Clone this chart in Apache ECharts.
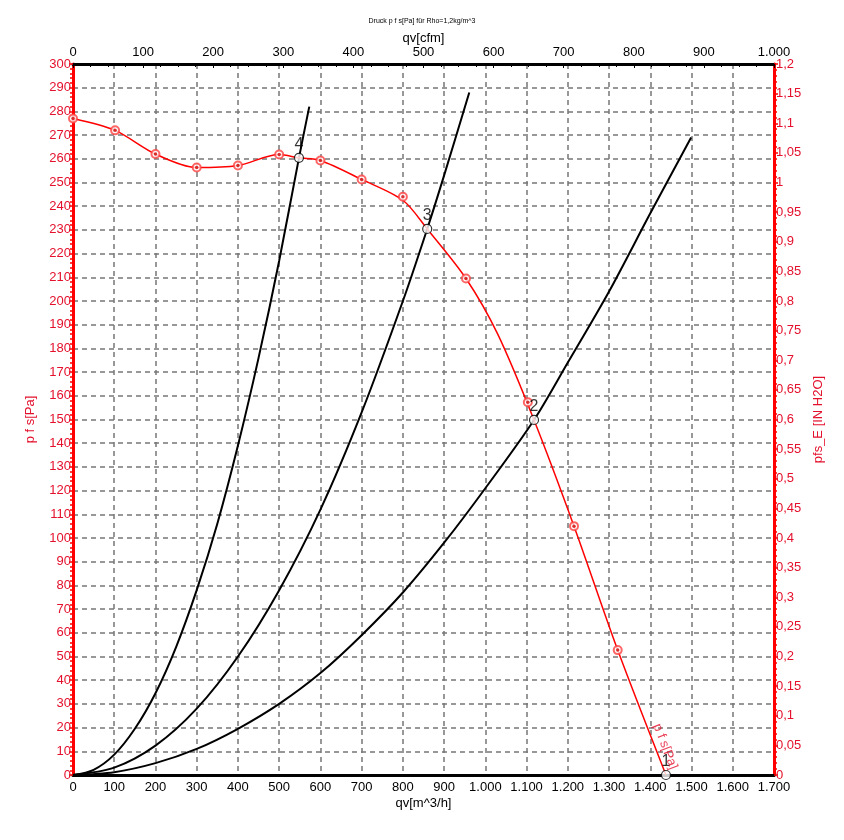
<!DOCTYPE html>
<html>
<head>
<meta charset="utf-8">
<script src="https://cdn.jsdelivr.net/npm/echarts@6/dist/echarts.min.js"></script>
<style>html,body{margin:0;padding:0;background:#fff}#c{width:844px;height:840px}</style>
</head>
<body>
<div id="c"></div>
<script>
// Fan curve (measured markers) q [m^3/h], p [Pa]
const fanMarkers = [[0,277],[102,272],[200,262],[300,256.3],[400,257.2],[500,261.8],[600,259.3],[700,251.3],[800,244],[953,209.5],[1103,157.3],[1215,105],[1321,52.7]];
// Red line points
const fanLine = [[0,277],[102,272],[200,262],[300,256.3],[400,257.2],[500,261.8],[548,260.4],[600,259.3],[700,251.3],[800,242.5],[859,230.4],[953,209.5],[1030,186],[1118,149.8],[1215,105],[1321,52.7],[1438,0]];
// System curves
const sys1 = [[0,0],[1438,0]];
const sys2 = [[0,0],[100,1.2],[200,5],[300,11],[400,19.5],[500,30],[600,43],[700,59],[800,77],[900,98],[1000,121],[1118,149.8],[1200,174],[1300,204],[1400,237],[1499,269]];
const sys3 = [[0,0],[100,3.1],[200,12.4],[300,28],[400,50],[500,78],[600,112],[700,153],[800,200],[859,230.4],[900,253],[961,288]];
const sys4 = [[0,0],[50,2.2],[100,8.6],[150,19.5],[200,34.5],[250,54],[300,78],[350,106],[400,139],[450,176],[500,217],[548,260.4],[573,282]];
// Operating points and labels
const opPoints = [[1438,0],[1118,149.8],[859,230.4],[548,260.4]];
const opLabels = ['1','2','3','4'];
// Curve annotation
const curveNamePos = [[1436,12]];
const curveName = 'p f s[Pa]';
// Axes
const titleText = 'Druck p f s[Pa] für Rho=1,2kg/m^3';
const xBottomName = 'qv[m^3/h]';
const xTopName = 'qv[cfm]';
const yLeftName = 'p f s[Pa]';
const yRightName = 'pfs_E [IN H2O]';

const FONT = 'Liberation Sans, Arial, sans-serif';
const RED = '#ff0000';
const RED_TXT = '#e4102c';
function thousands(v){ v = Math.round(v); if (v >= 1000) { const s = String(v); return s.slice(0, s.length-3) + '.' + s.slice(s.length-3);} return String(v); }

const chart = echarts.init(document.getElementById('c'), null, {renderer:'canvas'});
chart.setOption({
  animation: false,
  backgroundColor: '#fff',
  title: { text: titleText, left: 'center', top: 13, textStyle: { fontSize: 7, fontWeight: 'normal', color: '#000', fontFamily: FONT } },
  grid: { left: 73, right: 70, top: 64, bottom: 65, containLabel: false },
  xAxis: [
    { type: 'value', position: 'bottom', min: 0, max: 1700, interval: 100,
      name: xBottomName, nameLocation: 'middle', nameGap: 22, nameMoveOverlap: false,
      nameTextStyle: { fontSize: 13, color: '#000', fontFamily: FONT },
      axisLine: { show: true, onZero: false, lineStyle: { color: '#000', width: 3 } },
      axisTick: { show: false },
      axisLabel: { color: '#000', fontSize: 13, fontFamily: FONT, margin: 6, formatter: thousands },
      splitLine: { show: true, lineStyle: { color: '#777', width: 1.5, type: [5,4] } } },
    { type: 'value', position: 'top', min: 0, max: 1000, interval: 100,
      name: xTopName, nameLocation: 'middle', nameGap: 19, nameMoveOverlap: false,
      nameTextStyle: { fontSize: 13, color: '#000', fontFamily: FONT },
      axisLine: { show: true, onZero: false, lineStyle: { color: '#000', width: 3 } },
      axisTick: { show: true, inside: true, length: 4, lineStyle: { color: '#000', width: 1 } },
      minorTick: { show: true, splitNumber: 4, length: 3, lineStyle: { color: '#000', width: 1 } },
      axisLabel: { color: '#000', fontSize: 13, fontFamily: FONT, margin: 5, formatter: thousands },
      splitLine: { show: false } }
  ],
  yAxis: [
    { type: 'value', position: 'left', min: 0, max: 300, interval: 10,
      name: yLeftName, nameLocation: 'middle', nameGap: 36, nameRotate: 90,
      nameTextStyle: { fontSize: 13, color: RED_TXT, fontFamily: FONT },
      axisLine: { show: true, onZero: false, lineStyle: { color: RED, width: 3 } },
      axisTick: { show: true, length: 4, lineStyle: { color: RED, width: 1.5 } },
      minorTick: { show: true, splitNumber: 5, length: 3, lineStyle: { color: RED, width: 1.5 } },
      axisLabel: { color: RED_TXT, fontSize: 13, fontFamily: FONT, margin: 2 },
      splitLine: { show: true, lineStyle: { color: '#777', width: 1.5, type: [5,4] } } },
    { type: 'value', position: 'right', min: 0, max: 1.2, interval: 0.05,
      name: yRightName, nameLocation: 'middle', nameGap: 34, nameRotate: 90,
      nameTextStyle: { fontSize: 13, color: RED_TXT, fontFamily: FONT },
      axisLine: { show: true, onZero: false, lineStyle: { color: RED, width: 3 } },
      axisTick: { show: true, length: 4, lineStyle: { color: RED, width: 1.5 } },
      minorTick: { show: true, splitNumber: 5, length: 3, lineStyle: { color: RED, width: 1.5 } },
      axisLabel: { color: RED_TXT, fontSize: 13, fontFamily: FONT, margin: 2,
        formatter: v => String(parseFloat(v.toFixed(2))).replace('.', ',') },
      splitLine: { show: false } }
  ],
  series: [
    { type: 'line', data: sys1, showSymbol: false, symbol: 'none', lineStyle: { color: '#000', width: 2 }, z: 3 },
    { type: 'line', data: sys2, smooth: 0.3, symbol: 'none', lineStyle: { color: '#000', width: 2 }, z: 3 },
    { type: 'line', data: sys3, smooth: 0.3, symbol: 'none', lineStyle: { color: '#000', width: 2 }, z: 3 },
    { type: 'line', data: sys4, smooth: 0.3, symbol: 'none', lineStyle: { color: '#000', width: 2 }, z: 3 },
    { type: 'line', data: fanLine, smooth: 0.3, symbol: 'none', lineStyle: { color: RED, width: 1.5 }, z: 4 },
    { type: 'scatter', data: fanMarkers, symbol: 'emptyCircle', symbolSize: 8,
      itemStyle: { color: '#ff4040', borderColor: RED, borderWidth: 2 }, z: 5 },
    { type: 'scatter', data: fanMarkers, symbol: 'circle', symbolSize: 3.5,
      itemStyle: { color: '#d00000' }, z: 6 },
    { type: 'scatter', data: opPoints, symbol: 'circle', symbolSize: 9,
      itemStyle: { color: '#fff', borderColor: '#000', borderWidth: 1.2 }, z: 7,
      label: { show: true, position: 'top', distance: 0, color: '#000', fontSize: 16, fontFamily: FONT,
        formatter: p => opLabels[p.dataIndex] } },
    { type: 'scatter', data: curveNamePos, symbolSize: 0, z: 7,
      label: { show: true, position: 'inside', rotate: -69, color: RED_TXT, fontSize: 13, fontFamily: FONT,
        formatter: () => curveName } }
  ]
});
</script>
</body>
</html>
